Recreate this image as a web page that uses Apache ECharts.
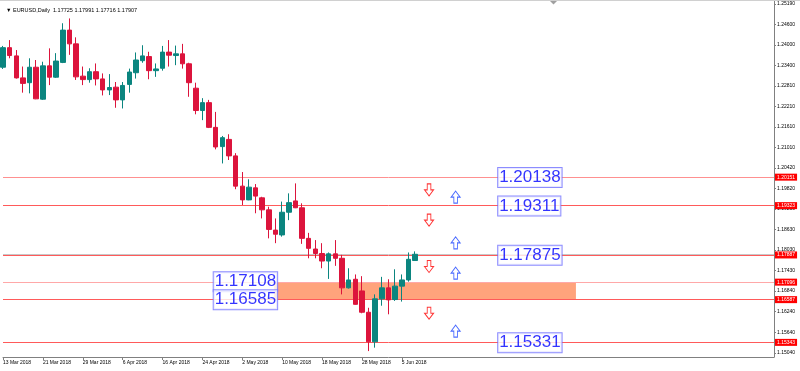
<!DOCTYPE html>
<html><head><meta charset="utf-8">
<script src="https://cdn.jsdelivr.net/npm/echarts@6/dist/echarts.min.js"></script>
<style>html,body{margin:0;padding:0;background:#fff}#c{width:800px;height:371px}</style>
</head><body><div id="c"></div>
<script>
const dates = ['13 Mar 2018','14 Mar 2018','15 Mar 2018','16 Mar 2018','19 Mar 2018','20 Mar 2018','21 Mar 2018','22 Mar 2018','23 Mar 2018','26 Mar 2018',
'27 Mar 2018','28 Mar 2018','29 Mar 2018','30 Mar 2018','2 Apr 2018','3 Apr 2018','4 Apr 2018','5 Apr 2018','6 Apr 2018','9 Apr 2018',
'10 Apr 2018','11 Apr 2018','12 Apr 2018','13 Apr 2018','16 Apr 2018','17 Apr 2018','18 Apr 2018','19 Apr 2018','20 Apr 2018','23 Apr 2018',
'24 Apr 2018','25 Apr 2018','26 Apr 2018','27 Apr 2018','30 Apr 2018','1 May 2018','2 May 2018','3 May 2018','4 May 2018','7 May 2018',
'8 May 2018','9 May 2018','10 May 2018','11 May 2018','14 May 2018','15 May 2018','16 May 2018','17 May 2018','18 May 2018','21 May 2018',
'22 May 2018','23 May 2018','24 May 2018','25 May 2018','28 May 2018','29 May 2018','30 May 2018','31 May 2018','1 Jun 2018','4 Jun 2018',
'5 Jun 2018','6 Jun 2018','7 Jun 2018'];
const openP = [1.2335,1.2392,1.2368,1.2304,1.2290,1.2335,1.2242,1.2339,1.2306,1.2349,
1.2443,1.2403,1.2309,1.2299,1.2322,1.2301,1.2269,1.2277,1.2240,1.2285,
1.2319,1.2354,1.2366,1.2325,1.2332,1.2379,1.2369,1.2374,1.2345,1.2274,
1.2209,1.2232,1.2160,1.2104,1.2125,1.2077,1.1989,1.1949,1.1984,1.1955,
1.1920,1.1861,1.1847,1.1913,1.1946,1.1926,1.1837,1.1806,1.1793,1.1771,
1.1792,1.1779,1.1693,1.1718,1.1684,1.1622,1.1536,1.1661,1.1693,1.1659,
1.1698,1.1716,1.17725];
const closeP = [1.2392,1.2369,1.2304,1.2288,1.2335,1.2243,1.2339,1.2306,1.2353,1.2443,
1.2403,1.2307,1.2299,1.2322,1.2301,1.2269,1.2276,1.2240,1.2282,1.2321,
1.2356,1.2368,1.2325,1.2330,1.2379,1.2370,1.2374,1.2345,1.2290,1.2209,
1.2232,1.2160,1.2103,1.2130,1.2077,1.1989,1.1949,1.1986,1.1960,1.1920,
1.1863,1.1849,1.1913,1.1941,1.1926,1.1837,1.1808,1.1793,1.1771,1.1792,
1.1779,1.1693,1.1716,1.1645,1.1622,1.1536,1.1661,1.1693,1.1658,1.1698,
1.1716,1.1776,1.17907];
const lowP = [1.2330,1.2361,1.2302,1.2261,1.2259,1.2242,1.2240,1.2283,1.2304,1.2347,
1.2371,1.2298,1.2283,1.2290,1.2282,1.2253,1.2254,1.2217,1.2215,1.2261,
1.2302,1.2348,1.2300,1.2307,1.2325,1.2337,1.2341,1.2331,1.2249,1.2198,
1.2181,1.2158,1.2096,1.2055,1.2065,1.1980,1.1934,1.1948,1.1910,1.1895,
1.1837,1.1823,1.1842,1.1890,1.1925,1.1821,1.1779,1.1779,1.1750,1.1719,
1.1757,1.1674,1.1691,1.1644,1.1619,1.1509,1.1519,1.1641,1.1616,1.1655,
1.1653,1.1711,1.17716];
const highP = [1.2397,1.2414,1.2385,1.2337,1.2361,1.2356,1.2351,1.2390,1.2376,1.2463,
1.2477,1.2422,1.2337,1.2332,1.2346,1.2317,1.2315,1.2292,1.2292,1.2331,
1.2378,1.2399,1.2380,1.2346,1.2397,1.2414,1.2398,1.2403,1.2348,1.2290,
1.2245,1.2240,1.2205,1.2135,1.2140,1.2085,1.2030,1.2009,1.1995,1.1958,
1.1929,1.1895,1.1944,1.1968,1.1997,1.1939,1.1853,1.1832,1.1823,1.1796,
1.1832,1.1789,1.1750,1.1732,1.1727,1.1635,1.1674,1.1725,1.1718,1.1747,
1.1732,1.1796,1.17991];
const yTicks = [1.25190,1.24600,1.24000,1.23400,1.22810,1.22210,1.21610,1.21010,1.20420,1.19820,
1.19230,1.18630,1.18030,1.17430,1.16840,1.16240,1.15640,1.15040];
const levelLines = [1.20151,1.19323,1.17887,1.17096,1.16587,1.15343];
const bidPrice = 1.17907;
const zone = [1.17096, 1.16587];
const zoneBars = [40.8, 86.2];
const boxRight = [1.20138,1.19311,1.17875,1.15331];
const boxLeft = [1.17108,1.16585];
const boxRightBar = 74.5, boxLeftBar = 31.7;
const downArrows = [1.1978,1.1890,1.1755,1.1619];
const upArrows = [1.1957,1.1824,1.1736,1.1567];
const downBar = 64.1, upBar = 68.1;
const totalSlots = 117;

const UP = '#0B857F', DOWN = '#DC143C';
const lineColors = ['#FF9090','#FF5A5A','#FF5A5A','#FFA8A8','#FF5A5A','#FF5A5A'];
const smallFont = 'Liberation Sans';

const cats = dates.concat(new Array(totalSlots - dates.length).fill(''));
const candles = dates.map((d,i)=>[openP[i], closeP[i], lowP[i], highP[i]]);
const last = dates.length - 1;
const titleText = '\u25BC EURUSD,Daily  ' + [openP[last],highP[last],lowP[last],closeP[last]].map(v=>v.toFixed(5)).join(' ');

const chart = echarts.init(document.getElementById('c'), null, {renderer:'canvas'});
const boxLabel = {
  show:true, position:'right', distance:0,
  formatter:p=>p.value[1].toFixed(5),
  fontFamily:'Liberation Sans', fontSize:17, color:'#0000FF', lineHeight:18,
  backgroundColor:'#fff', borderColor:'#6F6FFF', borderWidth:1, padding:[1,1,0,1]
};
chart.setOption({
  animation:false,
  backgroundColor:'#fff',
  title:{text:titleText, left:1, top:2, textStyle:{fontSize:5.5, fontWeight:'normal', color:'#000', fontFamily:smallFont}},
  grid:{left:0, top:0, right:26, bottom:14, containLabel:false},
  xAxis:[{
    type:'category', data:cats, boundaryGap:false,
    axisLine:{onZero:false, lineStyle:{color:'#808080'}},
    axisTick:{show:true, length:3, interval:(i)=>i%6===0 && i<dates.length, lineStyle:{color:'#808080'}},
    axisLabel:{interval:(i)=>i%6===0 && i<dates.length, align:'left', fontSize:5, fontFamily:smallFont, color:'#000', margin:3},
    splitLine:{show:false}
  },{
    type:'value', min:0, max:totalSlots-1, show:false
  }],
  yAxis:{
    type:'value', position:'right', min:1.149177, max:1.253064, scale:true,
    axisLine:{show:true, onZero:false, lineStyle:{color:'#808080'}},
    axisTick:{show:true, length:2, customValues:yTicks, lineStyle:{color:'#808080'}},
    axisLabel:{customValues:yTicks, formatter:v=>v.toFixed(5), fontSize:5, fontFamily:smallFont, color:'#000', margin:3},
    splitLine:{show:false}
  },
  series:[
    {
      type:'scatter', xAxisIndex:1, yAxisIndex:0, data:[], z:0, silent:true,
      markArea:{silent:true, itemStyle:{color:'#FFA37C'}, data:[[{xAxis:zoneBars[0], yAxis:zone[0]},{xAxis:zoneBars[1], yAxis:zone[1]}]]}
    },
    {
      type:'scatter', xAxisIndex:1, yAxisIndex:0, data:[], z:1, silent:true,
      markLine:{
        silent:true, symbol:'none', z:1, precision:5,
        label:{position:'end', distance:1, formatter:p=>p.value.toFixed(5), backgroundColor:'#FF0000', color:'#fff', fontSize:5, fontFamily:smallFont, padding:[1,2,1,2]},
        data: [{yAxis:bidPrice, lineStyle:{color:'#C8C8C8', width:1, type:'solid'}, label:{show:false}}]
          .concat(levelLines.map((v,i)=>({yAxis:v, lineStyle:{color:lineColors[i], width:1, type:'solid'}})))
      }
    },
    {
      type:'candlestick', data:candles, barWidth:5, z:3,
      itemStyle:{color:UP, color0:DOWN, borderColor:UP, borderColor0:DOWN, borderWidth:1}
    },
    {
      type:'scatter', xAxisIndex:1, yAxisIndex:0, z:10, symbolSize:0, silent:true,
      data: boxRight.map(v=>[boxRightBar, v]).concat(boxLeft.map(v=>[boxLeftBar, v])),
      label:boxLabel
    },
    {
      type:'scatter', xAxisIndex:1, yAxisIndex:0, z:10, silent:true,
      symbol:'path://M3,0 L7,0 L7,6 L10,6 L5,12 L0,6 L3,6 Z', symbolSize:[9,12],
      itemStyle:{color:'#fff', borderColor:'#FF0000', borderWidth:1},
      data: downArrows.map(v=>[downBar, v])
    },
    {
      type:'scatter', xAxisIndex:1, yAxisIndex:0, z:10, silent:true,
      symbol:'path://M5,0 L10,6 L7,6 L7,12 L3,12 L3,6 L0,6 Z', symbolSize:[9,12],
      itemStyle:{color:'#fff', borderColor:'#1E46FF', borderWidth:1},
      data: upArrows.map(v=>[upBar, v])
    }
  ],
  graphic:[
    {type:'line', shape:{x1:0,y1:0.5,x2:800,y2:0.5}, style:{stroke:'#D0D0D0', lineWidth:1}, z:20},
    {type:'polygon', shape:{points:[[550,1],[557,1],[553.5,4.5]]}, style:{fill:'#A0A0A0'}, z:20}
  ]
});
</script></body></html>
